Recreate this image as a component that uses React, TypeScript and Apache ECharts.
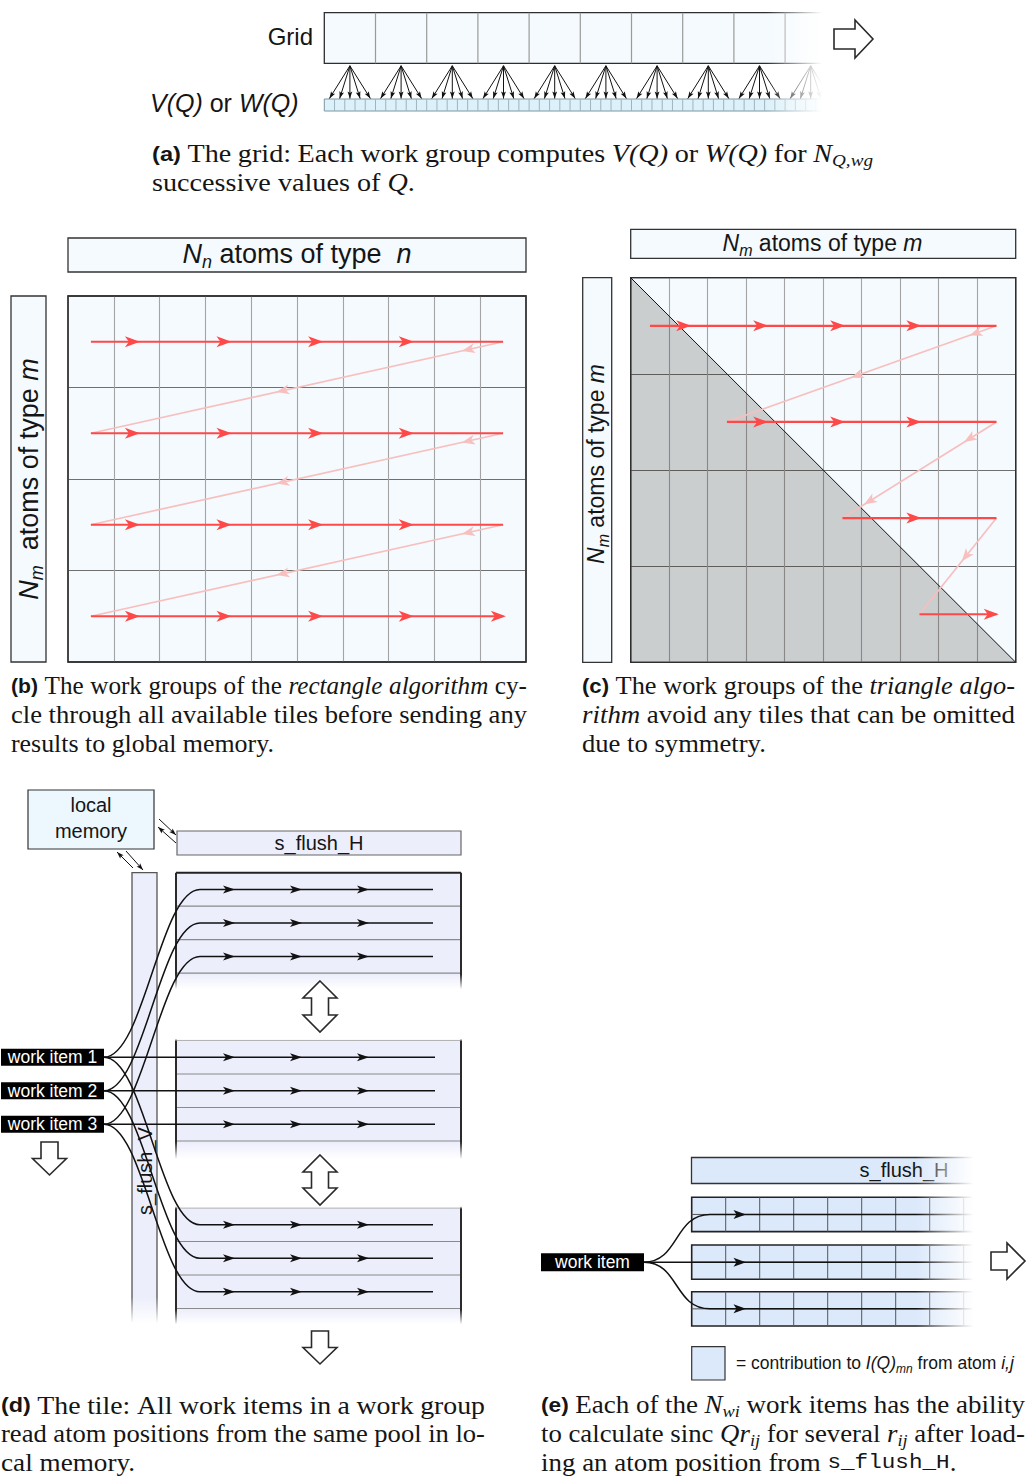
import React, { useEffect, useRef } from "react";
import * as echarts from "echarts";

// ---------- fonts ----------
const SANS = '"Liberation Sans", Arial, sans-serif';
const SERIF = '"Liberation Serif", "Times New Roman", serif';
const MONO = '"Liberation Mono", "DejaVu Sans Mono", monospace';

type Font = { family: string; size: number; style: string; weight: string; dy: number };
type Run = [string, Font];
const font = (family: string, size: number, style = "normal", weight = "normal", dy = 0): Font => ({
  family,
  size,
  style,
  weight,
  dy,
});

const CB = font(SANS, 21, "normal", "bold");
const CR = font(SERIF, 25);
const CI = font(SERIF, 25, "italic");
const CSUB = font(SERIF, 17, "italic", "normal", 6.5);
const CT = font(MONO, 21);

// ---------- panel (a): work-group grid ----------
const GRID_COLUMNS = 10;
const CELLS_PER_COLUMN = 5;

// ---------- panels (b) and (c): tiles visited by the work groups ----------
const TILE_COLS = 10;
const TILE_ROWS = 4;
const ROW_CENTRES = [0.5, 1.5, 2.5, 3.5];
const RECT_ROW_STARTS = [0.5, 0.5, 0.5, 0.5];
const TRI_ROW_STARTS = [0.5, 2.5, 5.5, 7.5];
const ROW_END = 9.5;
const LAST_TIP = 9.56;
const FORWARD_TIPS = [1.57, 3.57, 5.57, 7.55];
const RECT_RETURN_HEADS = [
  [0.1, 0.55],
  [0.1, 0.55],
  [0.1, 0.55],
];
const TRI_RETURN_HEADS = [[0.1, 0.54], [0.21, 0.86], [0.45]];

// ---------- panel (d): one tile ----------
const WORK_ITEMS = ["work item 1", "work item 2", "work item 3"];
const ROWS_PER_BLOCK = 3;

// ---------- panel (e): one work item ----------
const E_COLUMNS = 8.5;
const E_BLOCKS = 3;

// ---------- captions ----------
const CAPTION_A: Run[][] = [
  [
    ["(a)", CB],
    [" The grid: Each work group computes ", CR],
    ["V(Q)", CI],
    [" or ", CR],
    ["W(Q)", CI],
    [" for ", CR],
    ["N", CI],
    ["Q,wg", CSUB],
  ],
  [
    ["successive values of ", CR],
    ["Q", CI],
    [".", CR],
  ],
];
const CAPTION_B: Run[][] = [
  [
    ["(b)", CB],
    [" The work groups of the ", CR],
    ["rectangle algorithm", CI],
    [" cy-", CR],
  ],
  [["cle through all available tiles before sending any", CR]],
  [["results to global memory.", CR]],
];
const CAPTION_C: Run[][] = [
  [
    ["(c)", CB],
    [" The work groups of the ", CR],
    ["triangle algo-", CI],
  ],
  [
    ["rithm", CI],
    [" avoid any tiles that can be omitted", CR],
  ],
  [["due to symmetry.", CR]],
];
const CAPTION_D: Run[][] = [
  [
    ["(d)", CB],
    [" The tile:  All work items in a work group", CR],
  ],
  [["read atom positions from the same pool in lo-", CR]],
  [["cal memory.", CR]],
];
const CAPTION_E: Run[][] = [
  [
    ["(e)", CB],
    [" Each of the ", CR],
    ["N", CI],
    ["wi", CSUB],
    [" work items has the ability", CR],
  ],
  [
    ["to calculate sinc ", CR],
    ["Qr", CI],
    ["ij", CSUB],
    [" for several ", CR],
    ["r", CI],
    ["ij", CSUB],
    [" after load-", CR],
  ],
  [
    ["ing an atom position from ", CR],
    ["s_flush_H", CT],
    [".", CR],
  ],
];

// ---------- colours ----------
const PALE = "#f4fafd";
const LAV = "#eceefb";
const BLUE = "#dce9fb";
const RED = "#ff4848";
const PINK = "#f8bfbf";
const INK = "#111";

// ---------- drawing helpers ----------
let measureCtx: CanvasRenderingContext2D | null = null;
function fontStr(f: Font) {
  return `${f.style} ${f.weight} ${f.size}px ${f.family}`;
}
function textWidth(t: string, f: Font) {
  if (!measureCtx) measureCtx = document.createElement("canvas").getContext("2d");
  measureCtx!.font = fontStr(f);
  return measureCtx!.measureText(t).width;
}
function textEl(t: string, x: number, y: number, f: Font, fill = "#151515", sx = 1): any {
  return {
    type: "text",
    x,
    y: y + f.dy,
    scaleX: sx,
    silent: true,
    style: {
      text: t,
      fill,
      fontFamily: f.family,
      fontSize: f.size,
      fontStyle: f.style,
      fontWeight: f.weight,
      align: "left",
      verticalAlign: "middle",
    },
  };
}
function runsWidth(runs: Run[]) {
  return runs.reduce((s, [t, f]) => s + textWidth(t, f), 0);
}
function runLine(runs: Run[], x: number, y: number, align: string, fill = "#151515"): any[] {
  const w = runsWidth(runs);
  let cx = align === "center" ? x - w / 2 : align === "right" ? x - w : x;
  return runs.map(([t, f]) => {
    const el = textEl(t, cx, y, f, fill);
    cx += textWidth(t, f);
    return el;
  });
}
function splitWords(runs: Run[]): Run[][] {
  const words: Run[][] = [[]];
  runs.forEach(([t, f]) => {
    t.split(" ").forEach((p, i) => {
      if (i > 0) words.push([]);
      if (p) words[words.length - 1].push([p, f]);
    });
  });
  return words.filter((w) => w.length > 0);
}
// justified paragraph (last line ragged); glyphs are widened a little per line
// so that the inter-word gaps stay close to a normal space
function paragraph(lines: Run[][], x: number, y0: number, width: number, gap: number): any[] {
  const out: any[] = [];
  const spW = textWidth(" ", CR);
  const info = lines.map((runs) => {
    const words = splitWords(runs);
    const widths = words.map((w) => runsWidth(w));
    const total = widths.reduce((a, b) => a + b, 0);
    return { words, widths, total };
  });
  const scales = info.map(({ words, total }) =>
    Math.min(1.13, Math.max(0.96, (width - (words.length - 1) * spW * 1.05) / total))
  );
  const justified = scales.slice(0, -1);
  const avg = justified.length ? justified.reduce((a, b) => a + b, 0) / justified.length : 1.05;
  info.forEach(({ words, widths, total }, li) => {
    const y = y0 + li * gap;
    const last = li === lines.length - 1;
    const s = last ? avg : scales[li];
    const sp = !last && words.length > 1 ? (width - total * s) / (words.length - 1) : spW * s;
    let cx = x;
    words.forEach((w, wi) => {
      let wx = cx;
      w.forEach(([t, f]) => {
        out.push(textEl(t, wx, y, f, "#151515", s));
        wx += textWidth(t, f) * s;
      });
      cx += widths[wi] * s + sp;
    });
  });
  return out;
}
const rect = (x: number, y: number, w: number, h: number, style: any, extra: any = {}): any => ({
  type: "rect",
  shape: { x, y, width: w, height: h },
  style,
  silent: true,
  ...extra,
});
const seg = (x1: number, y1: number, x2: number, y2: number, stroke: string, lineWidth = 1): any => ({
  type: "line",
  shape: { x1, y1, x2, y2 },
  style: { stroke, lineWidth },
  silent: true,
});
const poly = (points: number[][], style: any): any => ({ type: "polygon", shape: { points }, style, silent: true });
const bez = (x1: number, y1: number, c1x: number, c1y: number, c2x: number, c2y: number, x2: number, y2: number): any => ({
  type: "bezierCurve",
  shape: { x1, y1, x2, y2, cpx1: c1x, cpy1: c1y, cpx2: c2x, cpy2: c2y },
  style: { stroke: INK, lineWidth: 1.5, fill: null },
  silent: true,
});
const fade = (x: number, y: number, w: number, h: number, horizontal: boolean, reverse: boolean, full = 1): any => {
  const stops = reverse
    ? [
        { offset: 0, color: "rgba(255,255,255,1)" },
        { offset: 1 - full, color: "rgba(255,255,255,1)" },
        { offset: 1, color: "rgba(255,255,255,0)" },
      ]
    : [
        { offset: 0, color: "rgba(255,255,255,0)" },
        { offset: full, color: "rgba(255,255,255,1)" },
        { offset: 1, color: "rgba(255,255,255,1)" },
      ];
  return rect(x, y, w, h, {
    fill: new echarts.graphic.LinearGradient(0, 0, horizontal ? 1 : 0, horizontal ? 0 : 1, stops),
  });
};
function headPts(tx: number, ty: number, fx: number, fy: number, L: number, hw: number, notch: number) {
  const dx = tx - fx;
  const dy = ty - fy;
  const len = Math.hypot(dx, dy) || 1;
  const ux = dx / len;
  const uy = dy / len;
  const nx = -uy;
  const ny = ux;
  const bx = tx - ux * L;
  const by = ty - uy * L;
  return [
    [tx, ty],
    [bx + nx * hw, by + ny * hw],
    [tx - ux * (L - notch), ty - uy * (L - notch)],
    [bx - nx * hw, by - ny * hw],
  ];
}
const head = (tx: number, ty: number, fx: number, fy: number, L: number, hw: number, notch: number, fill = INK) =>
  poly(headPts(tx, ty, fx, fy, L, hw, notch), { fill });
const arrow = (x1: number, y1: number, x2: number, y2: number, L = 7, hw = 2.5, lw = 1): any[] => [
  seg(x1, y1, x2, y2, INK, lw),
  head(x2, y2, x1, y1, L, hw, 1.5),
];
const hollow = (pts: number[][]) => poly(pts, { fill: "#fff", stroke: "#2a2a2a", lineWidth: 1.6, lineJoin: "miter" });

// ---------- series for (b) and (c) ----------
function forwardSegs(starts: number[]) {
  return ROW_CENTRES.map((y, i) => [starts[i], y, ROW_END, y]);
}
function returnSegs(starts: number[]) {
  return ROW_CENTRES.slice(0, -1).map((y, i) => [ROW_END, y, starts[i + 1], ROW_CENTRES[i + 1]]);
}
function forwardHeads(starts: number[]) {
  const out: number[][] = [];
  ROW_CENTRES.forEach((y, i) => {
    FORWARD_TIPS.forEach((t) => {
      if (t > starts[i] + 0.3) out.push([t, y, starts[i], y]);
    });
    if (i === ROW_CENTRES.length - 1) out.push([LAST_TIP, y, starts[i], y]);
  });
  return out;
}
function returnHeads(starts: number[], fracs: number[][]) {
  const out: number[][] = [];
  fracs.forEach((ts, i) => {
    const y0 = ROW_CENTRES[i];
    const y1 = ROW_CENTRES[i + 1];
    const x1 = starts[i + 1];
    ts.forEach((t) => out.push([ROW_END + (x1 - ROW_END) * t, y0 + (y1 - y0) * t, ROW_END, y0]));
  });
  return out;
}
function segSeries(gi: number, data: number[][], color: string, width: number): any {
  return {
    type: "custom",
    coordinateSystem: "cartesian2d",
    xAxisIndex: gi,
    yAxisIndex: gi,
    silent: true,
    data,
    renderItem: (_p: any, api: any) => {
      const a = api.coord([api.value(0), api.value(1)]);
      const b = api.coord([api.value(2), api.value(3)]);
      return { type: "line", shape: { x1: a[0], y1: a[1], x2: b[0], y2: b[1] }, style: { stroke: color, lineWidth: width } };
    },
  };
}
function headSeries(gi: number, data: number[][], color: string, L: number, hw: number, notch: number): any {
  return {
    type: "custom",
    coordinateSystem: "cartesian2d",
    xAxisIndex: gi,
    yAxisIndex: gi,
    silent: true,
    data,
    renderItem: (_p: any, api: any) => {
      const p = api.coord([api.value(0), api.value(1)]);
      const q = api.coord([api.value(2), api.value(3)]);
      return { type: "polygon", shape: { points: headPts(p[0], p[1], q[0], q[1], L, hw, notch) }, style: { fill: color } };
    },
  };
}
const triangleSeries: any = {
  type: "custom",
  coordinateSystem: "cartesian2d",
  xAxisIndex: 1,
  yAxisIndex: 1,
  silent: true,
  data: [[0, 0, TILE_COLS, TILE_ROWS]],
  renderItem: (_p: any, api: any) => {
    const a = api.coord([api.value(0), api.value(1)]);
    const b = api.coord([api.value(0), api.value(3)]);
    const c = api.coord([api.value(2), api.value(3)]);
    return {
      type: "group",
      children: [
        { type: "polygon", shape: { points: [a, b, c] }, style: { fill: "rgba(20,14,12,0.19)" } },
        { type: "line", shape: { x1: a[0], y1: a[1], x2: c[0], y2: c[1] }, style: { stroke: INK, lineWidth: 1 } },
      ],
    };
  },
};

function buildOption(): any {
  const els: any[] = [];
  const S = (size: number, style = "normal", dy = 0) => font(SANS, size, style, "normal", dy);

  // ===== (a) =====
  const aLeft = 324.3;
  const aTop = 12.7;
  const colW = 51.2;
  const rowH = 50.6;
  const aW = 505;
  const stripTop = 99;
  const stripH = 12;
  const cellW = colW / CELLS_PER_COLUMN;
  els.push(rect(aLeft, aTop, aW, rowH, { fill: PALE, stroke: "#2e2e2e", lineWidth: 1.3 }));
  for (let c = 1; c < GRID_COLUMNS; c++) {
    const x = aLeft + c * colW;
    els.push(seg(x, aTop, x, aTop + rowH, "#9a9a9a", 1.2));
  }
  els.push(rect(aLeft, stripTop, aW, stripH, { fill: "#dcf1f9", stroke: "#7d97a2", lineWidth: 1 }));
  for (let k = 1; aLeft + k * cellW < aLeft + aW; k++) {
    const x = aLeft + k * cellW;
    els.push(seg(x, stripTop, x, stripTop + stripH, "#9fb4bd", 1));
  }
  for (let c = 0; c < GRID_COLUMNS; c++) {
    const ax = aLeft + (c + 0.5) * colW;
    const ay = aTop + rowH + 2.5;
    for (let k = 0; k < CELLS_PER_COLUMN; k++) {
      const tx = aLeft + (c * CELLS_PER_COLUMN + k + 0.5) * cellW;
      els.push(...arrow(ax, ay, tx, stripTop - 0.5, 7, 2.4, 1));
    }
  }
  els.push(fade(766, 8, 66, 110, true, false, 0.85));
  els.push(
    hollow([
      [834, 29],
      [855, 29],
      [855, 20],
      [873, 39],
      [855, 58],
      [855, 49],
      [834, 49],
    ])
  );
  els.push(...runLine([["Grid", S(24)]], 313, 36, "right"));
  els.push(
    ...runLine(
      [
        ["V(Q)", S(25, "italic")],
        [" or ", S(25)],
        ["W(Q)", S(25, "italic")],
      ],
      150,
      103,
      "left"
    )
  );
  els.push(...paragraph(CAPTION_A, 152, 154, 721, 28.5));

  // ===== (b) and (c) frames and labels =====
  els.push(rect(68, 238, 458, 34, { fill: PALE, stroke: "#333", lineWidth: 1.3 }));
  els.push(rect(11, 296, 35, 366, { fill: PALE, stroke: "#333", lineWidth: 1.3 }));
  els.push(rect(630.7, 229.3, 385, 29, { fill: PALE, stroke: "#333", lineWidth: 1.3 }));
  els.push(rect(582.7, 277.7, 29, 384.6, { fill: PALE, stroke: "#333", lineWidth: 1.3 }));
  els.push(rect(68, 296, 458, 366, { fill: null, stroke: "#2e2e2e", lineWidth: 1.3 }, { z: 50 }));
  els.push(rect(630.7, 277.7, 385, 384.6, { fill: null, stroke: "#2e2e2e", lineWidth: 1.3 }, { z: 50 }));
  const hdrB: Run[] = [
    ["N", S(27, "italic")],
    ["n", S(18, "italic", 8)],
    [" atoms of type  ", S(27)],
    ["n", S(27, "italic")],
  ];
  els.push(...runLine(hdrB, 297, 254, "center"));
  const sideB: Run[] = [
    ["N", S(27, "italic")],
    ["m", S(18, "italic", 8)],
    ["  atoms of type ", S(27)],
    ["m", S(27, "italic")],
  ];
  els.push({ type: "group", x: 28.5, y: 479, rotation: Math.PI / 2, children: runLine(sideB, 0, 0, "center") });
  const hdrC: Run[] = [
    ["N", S(23, "italic")],
    ["m", S(16, "italic", 7)],
    [" atoms of type ", S(23)],
    ["m", S(23, "italic")],
  ];
  els.push(...runLine(hdrC, 822.5, 243, "center"));
  const sideC: Run[] = [
    ["N", S(23, "italic")],
    ["m", S(16, "italic", 7)],
    [" atoms of type ", S(23)],
    ["m", S(23, "italic")],
  ];
  els.push({ type: "group", x: 596, y: 464, rotation: Math.PI / 2, children: runLine(sideC, 0, 0, "center") });
  els.push(...paragraph(CAPTION_B, 11, 686, 516, 29));
  els.push(...paragraph(CAPTION_C, 582, 686, 433, 29));

  // ===== (d) =====
  els.push(rect(28, 790, 126, 59, { fill: "#ecf8fe", stroke: "#333", lineWidth: 1.2 }));
  els.push(...runLine([["local", S(20)]], 91, 805, "center"));
  els.push(...runLine([["memory", S(20)]], 91, 831, "center"));
  els.push(rect(177, 831, 284, 24, { fill: LAV, stroke: "#666", lineWidth: 1.2 }));
  els.push(...runLine([["s_flush_H", S(20)]], 319, 843, "center"));
  els.push(rect(132, 872.7, 25, 452, { fill: LAV, stroke: "#555", lineWidth: 1.3 }));

  const dL = 176;
  const dR = 461;
  const dRow = 33.5;
  const blocks = [
    { top: 872.7, from: 872.7, to: 990, fadeTop: false },
    { top: 1040.5, from: 1024, to: 1160, fadeTop: true },
    { top: 1208, from: 1192, to: 1325, fadeTop: true },
  ];
  blocks.forEach((b, bi) => {
    els.push(rect(dL, b.from, dR - dL, b.to - b.from, { fill: LAV }));
    for (let k = bi === 0 ? 1 : 0; k <= ROWS_PER_BLOCK; k++) {
      const y = b.top + k * dRow;
      els.push(seg(dL, y, dR, y, "#8a8a8a", 1.2));
    }
    if (bi === 0) els.push(seg(dL, b.top, dR, b.top, "#222", 2));
    els.push(seg(dL, b.from, dL, b.to, "#2a2a2a", 2));
    els.push(seg(dR, b.from, dR, b.to, "#2a2a2a", 2));
  });
  blocks.forEach((b) => {
    if (b.fadeTop) els.push(fade(dL - 4, b.from - 1, dR - dL + 8, b.top - b.from + 2, false, true, 0.15));
    const bottom = b.top + ROWS_PER_BLOCK * dRow + 1;
    els.push(fade(dL - 4, bottom, dR - dL + 8, b.to - bottom + 1, false, false, 0.9));
  });
  els.push(fade(128, 1297, 34, 29, false, false, 0.9));
  els.push({
    type: "group",
    x: 145,
    y: 1171,
    rotation: Math.PI / 2,
    children: runLine([["s_flush_V", S(20)]], 0, 0, "center"),
  });
  // exchange with local memory
  els.push(...arrow(159, 819, 176, 835, 7, 2.4, 1));
  els.push(...arrow(176, 843, 158, 827, 7, 2.4, 1));
  els.push(...arrow(133, 868, 117, 852, 7, 2.4, 1));
  els.push(...arrow(126, 851, 143, 870, 7, 2.4, 1));

  // rows of every block, traversed left to right
  const rowY = (bi: number, r: number) => blocks[bi].top + dRow / 2 + r * dRow;
  const tips = [235, 302, 369];
  WORK_ITEMS.forEach((_label, r) => {
    const wy = rowY(1, r);
    [0, 2].forEach((bi) => {
      const by = rowY(bi, r);
      els.push(bez(104, wy, 144, wy, 160, by, 200, by));
      els.push(seg(200, by, 433, by, INK, 1.5));
      tips.forEach((t) => els.push(head(t, by, 200, by, 12, 4, 3)));
    });
    els.push(seg(104, wy, 435, wy, INK, 1.5));
    tips.forEach((t) => els.push(head(t, wy, 104, wy, 12, 4, 3)));
  });
  WORK_ITEMS.forEach((label, r) => {
    const wy = rowY(1, r);
    els.push(rect(1, wy - 8.5, 103, 17, { fill: "#000" }));
    els.push(...runLine([[label, S(17.5)]], 52.5, wy, "center", "#fff"));
  });
  const dblArrow = (top: number, bottom: number) =>
    hollow([
      [320, top],
      [337, top + 17],
      [328.5, top + 17],
      [328.5, bottom - 17],
      [337, bottom - 17],
      [320, bottom],
      [303, bottom - 17],
      [311.5, bottom - 17],
      [311.5, top + 17],
      [303, top + 17],
    ]);
  els.push(dblArrow(981, 1032));
  els.push(dblArrow(1155, 1205));
  const downArrow = (cx: number, top: number, bottom: number) =>
    hollow([
      [cx - 8.5, top],
      [cx + 8.5, top],
      [cx + 8.5, bottom - 16.5],
      [cx + 17, bottom - 16.5],
      [cx, bottom],
      [cx - 17, bottom - 16.5],
      [cx - 8.5, bottom - 16.5],
    ]);
  els.push(downArrow(320, 1331, 1364));
  els.push(downArrow(49.5, 1142, 1175));
  els.push(...paragraph(CAPTION_D, 1, 1405, 484, 29));

  // ===== (e) =====
  const eLeft = 691.7;
  const eCell = 34;
  const eW = E_COLUMNS * eCell;
  const eH = 34.3;
  const eTops = [1197.3, 1245, 1291.7];
  const wx = 644;
  const wy = eTops[1] + eH / 2;
  els.push(rect(691.5, 1157.5, eW, 26, { fill: BLUE, stroke: "#333", lineWidth: 1.3 }));
  els.push(...runLine([["s_flush_H", S(20)]], 904, 1170, "center"));
  for (let b = 0; b < E_BLOCKS; b++) {
    const top = eTops[b];
    const mid = top + eH / 2;
    els.push(rect(eLeft, top, eW, eH, { fill: BLUE, stroke: "#222", lineWidth: 1.6 }));
    for (let k = 1; k < E_COLUMNS; k++) {
      const x = eLeft + k * eCell;
      els.push(seg(x, top, x, top + eH, "#555", 1));
    }
    els.push(seg(eLeft, mid, eLeft + eW, mid, "#555", 1));
    if (b === 1) {
      els.push(seg(wx, mid, eLeft + eW, mid, INK, 1.5));
    } else {
      els.push(bez(wx, wy, 679, wy, 674, mid, 710, mid));
      els.push(seg(710, mid, eLeft + eW, mid, INK, 1.5));
    }
  }
  els.push(fade(916, 1150, 72, 182, true, false, 0.8));
  for (let b = 0; b < E_BLOCKS; b++) {
    const mid = eTops[b] + eH / 2;
    els.push(head(746, mid, 700, mid, 12.5, 4.5, 3));
  }
  els.push(rect(541, wy - 9, 103, 18, { fill: "#000" }));
  els.push(...runLine([["work item", S(17.5)]], 592.5, wy, "center", "#fff"));
  els.push(
    hollow([
      [991, 1252],
      [1007, 1252],
      [1007, 1243],
      [1025, 1261],
      [1007, 1279],
      [1007, 1270],
      [991, 1270],
    ])
  );
  els.push(rect(691.7, 1346.7, 33.3, 33.3, { fill: BLUE, stroke: "#333", lineWidth: 1.2 }));
  els.push(
    ...runLine(
      [
        ["= contribution to ", S(17.5)],
        ["I(Q)", S(17.5, "italic")],
        ["mn", S(12, "italic", 5.5)],
        [" from atom ", S(17.5)],
        ["i,j", S(17.5, "italic")],
      ],
      736,
      1363,
      "left"
    )
  );
  els.push(...paragraph(CAPTION_E, 541, 1405, 484, 29));

  const axisX = (gi: number) => ({
    gridIndex: gi,
    type: "value",
    min: 0,
    max: TILE_COLS,
    interval: 1,
    axisLine: { show: false },
    axisTick: { show: false },
    axisLabel: { show: false },
    splitLine: { show: true, showMinLine: false, showMaxLine: false, lineStyle: { color: "#a4a4a4", width: 1.1 } },
  });
  const axisY = (gi: number) => ({
    gridIndex: gi,
    type: "value",
    min: 0,
    max: TILE_ROWS,
    interval: 1,
    inverse: true,
    axisLine: { show: false },
    axisTick: { show: false },
    axisLabel: { show: false },
    splitLine: { show: true, showMinLine: false, showMaxLine: false, lineStyle: { color: "#6f6f6f", width: 1.1 } },
  });

  return {
    animation: false,
    backgroundColor: "#ffffff",
    grid: [
      { left: 68, top: 296, width: 458, height: 366, show: true, backgroundColor: PALE, borderColor: "#2e2e2e", borderWidth: 1.3 },
      { left: 630.7, top: 277.7, width: 385, height: 384.6, show: true, backgroundColor: PALE, borderColor: "#2e2e2e", borderWidth: 1.3 },
    ],
    xAxis: [axisX(0), axisX(1)],
    yAxis: [axisY(0), axisY(1)],
    series: [
      triangleSeries,
      segSeries(0, returnSegs(RECT_ROW_STARTS), PINK, 1.7),
      headSeries(0, returnHeads(RECT_ROW_STARTS, RECT_RETURN_HEADS), PINK, 13, 5, 3.5),
      segSeries(0, forwardSegs(RECT_ROW_STARTS), RED, 2.2),
      headSeries(0, forwardHeads(RECT_ROW_STARTS), RED, 15, 5.5, 4),
      segSeries(1, returnSegs(TRI_ROW_STARTS), PINK, 1.7),
      headSeries(1, returnHeads(TRI_ROW_STARTS, TRI_RETURN_HEADS), PINK, 13, 5, 3.5),
      segSeries(1, forwardSegs(TRI_ROW_STARTS), RED, 2.2),
      headSeries(1, forwardHeads(TRI_ROW_STARTS), RED, 15, 5.5, 4),
    ],
    graphic: { elements: els },
  };
}

export default function App() {
  const ref = useRef<HTMLDivElement>(null);
  useEffect(() => {
    document.body.style.margin = "0";
    const chart = echarts.init(ref.current!, null, { renderer: "svg" });
    chart.setOption(buildOption());
    return () => chart.dispose();
  }, []);
  return <div ref={ref} style={{ width: 1028, height: 1478 }} />;
}
